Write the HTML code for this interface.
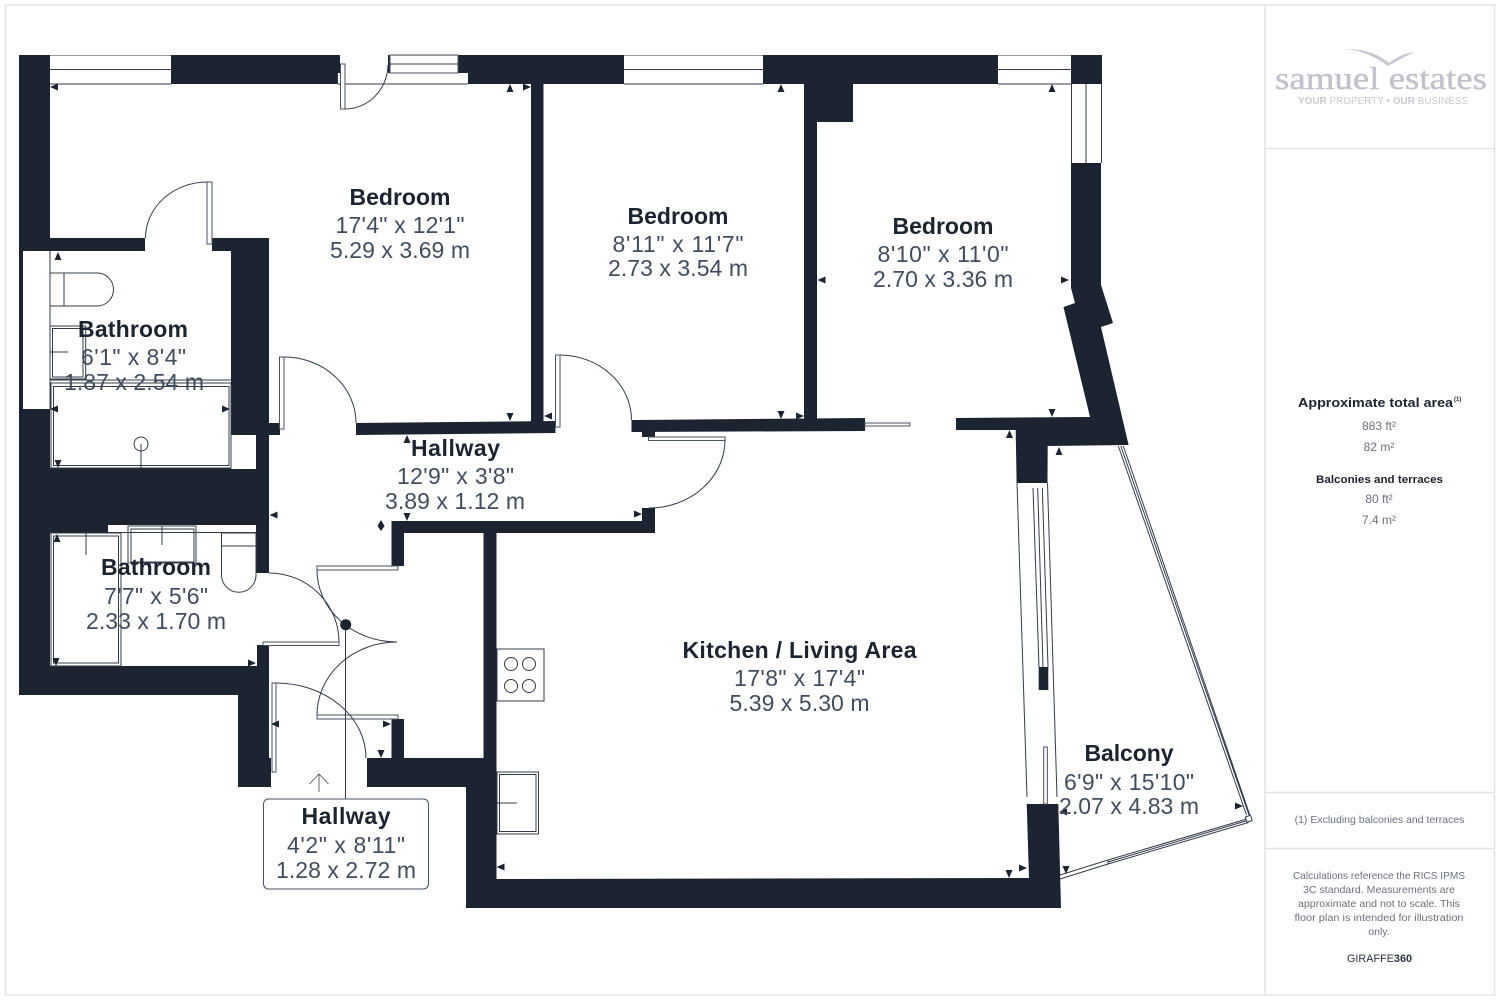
<!DOCTYPE html>
<html><head><meta charset="utf-8"><style>
html,body{margin:0;padding:0;background:#fff}
svg{display:block}
.w{fill:#1b2430}
.l{fill:none;stroke:#333c4a;stroke-width:1}
.g{fill:#fff;stroke:#4a5260;stroke-width:1}
.t{font:bold 23px "Liberation Sans",sans-serif;fill:#1b2430;text-anchor:middle}
.d{font:23px "Liberation Sans",sans-serif;fill:#414d5e;text-anchor:middle}
.s{font:10.5px "Liberation Sans",sans-serif;fill:#69717d;text-anchor:middle}
.a{fill:#1b2430}
</style></head><body>
<svg width="1500" height="1000" viewBox="0 0 1500 1000" xmlns="http://www.w3.org/2000/svg">
<rect width="1500" height="1000" fill="#fff"/>
<rect x="5.5" y="5" width="1489" height="990" fill="none" stroke="#e4e4e6" stroke-width="1.5"/>
<path d="M1265 5V995M1265 148.500H1494M1265 792.500H1494M1265 848.500H1494" stroke="#e4e4e6" stroke-width="1.500" fill="none"/>

<!-- walls -->
<g class="w">
<rect x="19" y="55" width="1083" height="29"/>
<rect x="19" y="55" width="31" height="640"/>
<rect x="50" y="238" width="95" height="13"/>
<rect x="212" y="238" width="57" height="13"/>
<rect x="231" y="251" width="38" height="184"/>
<rect x="269" y="423" width="11" height="12"/>
<rect x="256" y="435" width="13" height="138"/>
<rect x="50" y="468" width="206" height="57"/>
<rect x="50" y="525" width="58" height="8"/>
<rect x="50" y="666" width="207" height="29"/>
<rect x="257" y="645" width="12" height="115"/>
<rect x="238" y="666" width="31" height="121"/>
<rect x="238" y="758" width="33" height="29"/>
<rect x="531" y="84" width="12.500" height="338"/>
<polygon points="356,423 555.500,421 555.500,433 356,435"/>
<polygon points="631.500,420 865,418 865,431 631.500,432"/>
<rect x="642" y="431" width="13" height="6"/>
<rect x="804" y="84" width="13" height="336"/>
<rect x="804" y="84" width="49" height="38"/>
<polygon points="956,418 1090,417 1063.500,307 1075,303 1071,288 1071,163 1101,163 1101,285 1113,323 1101,327 1128.600,445 1047.700,446 1047.500,483 1016.600,483 1015.700,430 956,430"/>
<rect x="391.500" y="521" width="263.500" height="12"/>
<rect x="642" y="508" width="13" height="25"/>
<rect x="391.500" y="533" width="12.500" height="33"/>
<rect x="483.500" y="533" width="13" height="254"/>
<rect x="391.500" y="719" width="12.500" height="40"/>
<rect x="367" y="758" width="117" height="29"/>
<polygon points="466,787 496.500,787 496.500,879 1029,878 1026.700,804 1058.300,804 1061,908 466,908"/>
<rect x="1038.700" y="667" width="9.600" height="23"/>
</g>

<!-- windows -->
<g class="g">
<rect x="50" y="55" width="121" height="29" stroke="none"/>
<rect x="23" y="251" width="27" height="158" stroke="none"/>
<rect x="231" y="435" width="25" height="34" stroke="none"/>
<rect x="108" y="525" width="148" height="7" stroke="none"/>
<rect x="340" y="55" width="48" height="29" stroke="none"/>
<rect x="388" y="73" width="80" height="11" stroke="none"/>
<rect x="390" y="55" width="68" height="18"/>
<rect x="337.500" y="73" width="3" height="11" stroke="none"/>
<rect x="624" y="55" width="139" height="29" stroke="none"/>
<rect x="998" y="55" width="73" height="29" stroke="none"/>
<rect x="1071" y="84" width="31" height="79" stroke="none"/>
</g>
<path class="l" d="M50 69.500H171M50 84H171M390 64H458M337.500 84H468M337.500 73V84M624 69.500H763M624 84H763M998 69.500H1071M998 84H1071M1071.500 84V163M1086 84V163M1101.500 84V163M50 251V409M108 532.500H256"/>
<path d="M50 55.500H171M390 55.500H458M624 55.500H763M998 55.500H1071" stroke="#999" stroke-width="1" fill="none"/>

<!-- doors -->
<g class="g">
<rect x="340.500" y="64" width="4.500" height="45"/>
<rect x="207" y="182" width="5" height="62"/>
<rect x="279.500" y="357" width="4.500" height="72"/>
<rect x="555.500" y="355" width="4.500" height="72"/>
<rect x="648.500" y="437" width="76.500" height="3.500"/>
<rect x="865" y="423" width="45" height="3"/>
<rect x="317" y="566" width="81" height="4"/>
<rect x="317" y="715" width="81" height="4"/>
<rect x="263" y="642" width="76" height="3.500"/>
<rect x="272" y="683" width="4" height="89"/>
<rect x="1043.700" y="747" width="3.600" height="57"/>
</g>
<g class="l">
<path d="M345 109A43 45 0 0 0 388 65"/>
<path d="M145.500 238A62 56 0 0 1 207 182"/>
<path d="M284 357A72 66 0 0 1 356 423"/>
<path d="M560 355A72 65 0 0 1 631.500 420"/>
<path d="M725 440A76 68 0 0 1 648.500 508"/>
<path d="M269 573A70 69 0 0 1 339 642"/>
<path d="M317 570A80 72 0 0 0 397 642"/>
<path d="M317 715A80 73 0 0 1 397 642"/>
<path d="M276 683A90 75 0 0 1 366 758"/>
<path d="M345.500 625V799"/>
<path d="M319 792V774M309.500 784L319 774L328.500 784" stroke-width="0.900" stroke="#555"/>
<!-- sliding doors -->
<path d="M1017 483L1027 797M1047.500 483L1057 797"/>
<path d="M1033 488L1039 667M1037.700 488L1043 667M1042.300 488L1048 667"/>
<path d="M1118.300 446L1246.500 815M1120.800 446L1249 815M1123.300 446L1251.500 820"/>
<path d="M1247 819L1108 860M1247.500 820.500L1108 862M1248.500 822.500L1108 864M1108 860L1060 875M1108 864L1060 879M1108 860V864"/>
<rect x="1246" y="816" width="5.500" height="5.500" fill="#fff" transform="rotate(-17 1248.700 818.700)"/>
</g>
<circle cx="345.700" cy="624.700" r="5.500" class="w"/>

<!-- fixtures -->
<g class="l">
<path d="M50 273H97A16.500 16.500 0 0 1 97 306H50M64 273V306"/>
<rect x="50" y="326" width="35.700" height="53"/><rect x="52.500" y="328.500" width="30.500" height="48.500"/><path d="M50 352H68"/>
<path d="M50 380H231M51 383H231"/>
<rect x="51" y="383" width="180" height="85"/><rect x="53.500" y="386.500" width="175.500" height="79"/>
<circle cx="141" cy="444" r="7"/><path d="M141 444V468"/>
<rect x="51" y="533" width="70" height="133"/><rect x="53.500" y="536" width="65" height="127"/><path d="M86 533V555"/>
<rect x="128" y="526" width="68" height="37"/><rect x="131" y="529" width="63" height="33"/><path d="M162 526V545"/>
<path d="M221.500 533H256M221.500 546H256M221.500 533V575A17.250 17.250 0 0 0 256 575V533"/>
<rect x="497" y="649" width="47" height="52"/>
<circle cx="511" cy="664" r="6.500"/><circle cx="529" cy="664" r="6.500"/><circle cx="511" cy="686" r="6.500"/><circle cx="529" cy="686" r="6.500"/>
<rect x="497" y="772" width="41.500" height="62"/><rect x="499.500" y="774.500" width="36.500" height="57"/><path d="M497 803H517"/>
</g>

<!-- arrows -->
<g class="a">
<path d="M50 87l8-3.500v7z"/>
<path d="M58 252l-3.500 8h7zM50 409l8-3.500v7zM230 409l-8-3.500v7zM58 468l-3.500-8h7zM407 435l-3.500 8h7z"/>
<path d="M510 84l-3.500 8h7zM531 87l-8-3.500v7zM781 84l-3.500 8h7zM1052 84l-3.500 8h7zM510 421l-3.500-8h7zM544 416l8-3.500v7zM781 419l-3.500-8h7zM804 416l-8-3.500v7zM817.500 280l8-3.500v7zM1069 280l-8-3.500v7zM1052 417l-3.500-8h7zM1009.500 430l-3.500 8h7zM1059 447l-3.500 8h7zM642 514l-8-3.500v7z"/>
<path d="M1009 878l-3.500-8h7zM1027 868l-8-3.500v7zM1066 874l-3.500-8h7zM1059 812l8-3.500v7zM1243 806l-8-3.500v7z"/>
<path d="M269.500 515l8-3.500v7zM381 520l-3.500 6h7zM381 531l-3.500-5h7zM407 521l-3.500-8h7zM57 534l-3.500 8h7zM56 666l-3.500-8h7zM256 663l-8-3.500v7zM271 724l8-3.500v7zM391 724l-8-3.500v7zM381 758l-3.500-8h7zM496.500 867l8-3.500v7z"/>
</g>

<!-- labels -->
<text class="t" x="400" y="205">Bedroom</text><text class="d" x="400" y="233" textLength="129" lengthAdjust="spacing">17'4" x 12'1"</text><text class="d" x="400" y="258" textLength="140">5.29 x 3.69 m</text>
<text class="t" x="678" y="224">Bedroom</text><text class="d" x="678" y="252" textLength="131">8'11" x 11'7"</text><text class="d" x="678" y="276" textLength="140">2.73 x 3.54 m</text>
<text class="t" x="943" y="234">Bedroom</text><text class="d" x="943" y="262" textLength="131">8'10" x 11'0"</text><text class="d" x="943" y="287" textLength="140">2.70 x 3.36 m</text>
<text class="t" x="133" y="337" textLength="110">Bathroom</text><text class="d" x="133.500" y="365" textLength="105">6'1" x 8'4"</text><text class="d" x="134" y="390" textLength="140">1.87 x 2.54 m</text>
<text class="t" x="455.500" y="456" textLength="89">Hallway</text><text class="d" x="455.500" y="484" textLength="117">12'9" x 3'8"</text><text class="d" x="455" y="509" textLength="140">3.89 x 1.12 m</text>
<text class="t" x="156" y="575" textLength="110">Bathroom</text><text class="d" x="156" y="604" textLength="104">7'7" x 5'6"</text><text class="d" x="156" y="629" textLength="140">2.33 x 1.70 m</text>
<text class="t" x="799.500" y="658" textLength="234">Kitchen / Living Area</text><text class="d" x="799.500" y="686" textLength="131">17'8" x 17'4"</text><text class="d" x="799.500" y="711" textLength="140">5.39 x 5.30 m</text>
<text class="t" x="1129" y="761" textLength="89">Balcony</text><text class="d" x="1129" y="790" textLength="130">6'9" x 15'10"</text><text class="d" x="1129" y="814" textLength="140">2.07 x 4.83 m</text>
<rect x="263.500" y="799" width="165" height="90" rx="5" fill="#fff" stroke="#4a5260"/>
<text class="t" x="346" y="824" textLength="89">Hallway</text><text class="d" x="346" y="853" textLength="118">4'2" x 8'11"</text><text class="d" x="346" y="878" textLength="140">1.28 x 2.72 m</text>

<!-- sidebar -->
<path d="M1347 49C1365 49 1378 54 1389 63C1397 57 1405 53 1415 52C1405 56 1396 62 1388 66C1376 57 1363 51 1347 49Z" fill="#c9c9d1"/>
<text x="1275" y="89" font-family="Liberation Serif,serif" font-size="32" fill="#c2c2cc" stroke="#c2c2cc" stroke-width="0.4" textLength="212" lengthAdjust="spacingAndGlyphs">samuel estates</text>
<text x="1298" y="104" font-family="Liberation Sans,sans-serif" font-size="10.500" fill="#c9c9d1" textLength="170" lengthAdjust="spacingAndGlyphs"><tspan font-weight="bold">YOUR</tspan> PROPERTY • <tspan font-weight="bold">OUR</tspan> BUSINESS</text>
<text x="1298" y="407" font-family="Liberation Sans,sans-serif" font-size="13" font-weight="bold" fill="#1b2430" textLength="155" lengthAdjust="spacingAndGlyphs">Approximate total area</text>
<text x="1454" y="401" font-family="Liberation Sans,sans-serif" font-size="6" font-weight="bold" fill="#1b2430">(1)</text>
<text class="s" x="1379" y="430" style="font-size:12px">883 ft²</text>
<text class="s" x="1379" y="451" style="font-size:12px">82 m²</text>
<text x="1316" y="483" font-family="Liberation Sans,sans-serif" font-size="11" font-weight="bold" fill="#1b2430" textLength="127" lengthAdjust="spacingAndGlyphs">Balconies and terraces</text>
<text class="s" x="1379" y="503" style="font-size:12px">80 ft²</text>
<text class="s" x="1379" y="524" style="font-size:12px">7.4 m²</text>
<text class="s" x="1379.500" y="823">(1) Excluding balconies and terraces</text>
<text class="s" x="1379" y="879" textLength="172" lengthAdjust="spacingAndGlyphs">Calculations reference the RICS IPMS</text>
<text class="s" x="1379" y="893" textLength="152" lengthAdjust="spacingAndGlyphs">3C standard. Measurements are</text>
<text class="s" x="1379" y="907" textLength="162" lengthAdjust="spacingAndGlyphs">approximate and not to scale. This</text>
<text class="s" x="1379" y="921" textLength="169" lengthAdjust="spacingAndGlyphs">floor plan is intended for illustration</text>
<text class="s" x="1379" y="935">only.</text>
<text x="1347" y="962" font-family="Liberation Sans,sans-serif" font-size="11" fill="#2a3240" textLength="65" lengthAdjust="spacingAndGlyphs">GIRAFFE<tspan font-weight="bold">360</tspan></text>
</svg>
</body></html>
